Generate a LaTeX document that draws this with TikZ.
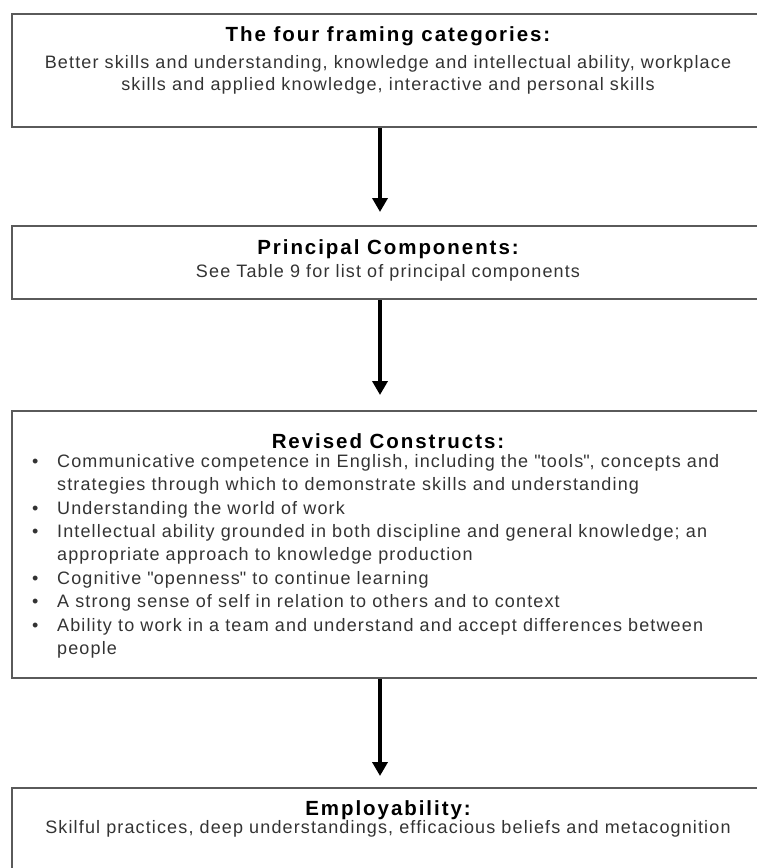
\documentclass[tikz,border=0pt]{standalone}
\usepackage{fontspec}
\setmainfont{Liberation Sans}[LetterSpace=6.3]
\usetikzlibrary{arrows.meta}
\definecolor{boxline}{HTML}{5A5A5A}
\definecolor{bodytext}{HTML}{333333}

\begin{document}
\begin{tikzpicture}[x=1pt,y=-1pt,
    stage/.style={draw=boxline,line width=2pt,minimum width=752pt,inner sep=0pt},
    head/.style={font=\bfseries\fontsize{20.5}{22}\selectfont\addfontfeature{LetterSpace=9.5},inner sep=0pt},
    body/.style={font=\fontsize{18}{22}\selectfont,text=bodytext,align=center,inner sep=0pt},
    flow/.style={line width=4pt,-{Triangle[width=15pt,length=14pt]}}]
        \useasboundingbox (0,0) rectangle (757,868);
        \node[stage,minimum height=113pt] (frame) at (388,70.5){};
        \node[stage,minimum height=73pt] (comp) at (388,262.5){};
        \node[stage,minimum height=267pt] (revised) at (388,544.5){};
        \node[stage,minimum height=112pt] (employ) at (388,844){};
        \node[head] (framehead) at (388,36){The four framing categories:};
        \node[body] (frametext) at (388,75){Better skills and understanding, knowledge and intellectual ability, workplace\\skills and applied knowledge, interactive and personal skills};
        \node[head] (comphead) at (388,249){Principal Components:};
        \node[body] (comptext) at (388,273){See Table 9 for list of principal components};
        \node[head] (revisedhead) at (388,441){Revised Constructs:};
        \node[body,align=left,anchor=north west,font=\fontsize{18}{23.4}\selectfont] (revisedlist) at (32,454){%
            \makebox[25pt][l]{\textbullet}Communicative competence in English, including the \textquotedbl tools\textquotedbl, concepts and\\
            \hspace*{25pt}strategies through which to demonstrate skills and understanding\\
            \makebox[25pt][l]{\textbullet}Understanding the world of work\\
            \makebox[25pt][l]{\textbullet}Intellectual ability grounded in both discipline and general knowledge; an\\
            \hspace*{25pt}appropriate approach to knowledge production\\
            \makebox[25pt][l]{\textbullet}Cognitive \textquotedbl openness\textquotedbl{} to continue learning\\
            \makebox[25pt][l]{\textbullet}A strong sense of self in relation to others and to context\\
            \makebox[25pt][l]{\textbullet}Ability to work in a team and understand and accept differences between\\
            \hspace*{25pt}people};
        \node[head] (employhead) at (388,810){Employability:};
        \node[body] (employtext) at (388,829){Skilful practices, deep understandings, efficacious beliefs and metacognition};
        \draw[flow] ([xshift=-8pt]frame.south) -- ([xshift=-8pt,yshift=13pt]comp.north);
        \draw[flow] ([xshift=-8pt]comp.south) -- ([xshift=-8pt,yshift=15pt]revised.north);
        \draw[flow] ([xshift=-8pt]revised.south) -- ([xshift=-8pt,yshift=11pt]employ.north);
    \end{tikzpicture}
\end{document}
